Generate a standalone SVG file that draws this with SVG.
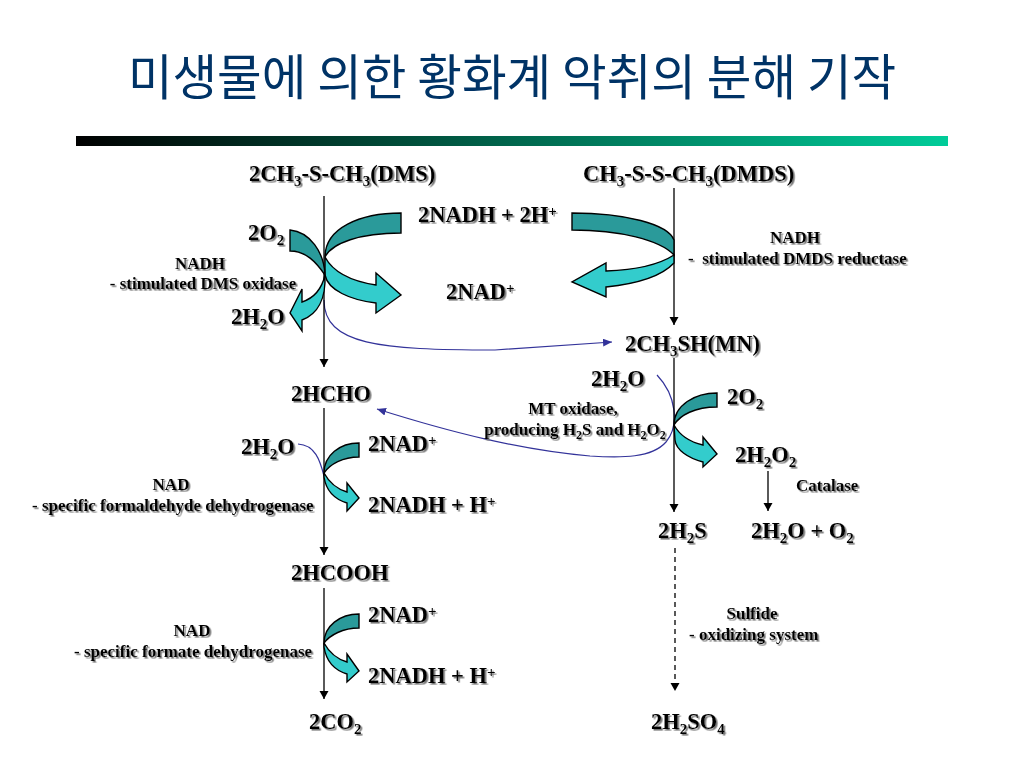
<svg xmlns="http://www.w3.org/2000/svg" width="1024" height="768" viewBox="0 0 1024 768">
<style>
text{font-family:"Liberation Serif","Noto Sans CJK KR",serif;font-weight:bold;fill:#000;filter:url(#sh)}
.l{font-size:22.5px}
.s{font-size:17px}
.m{text-anchor:middle}
.t{font-family:"Noto Sans CJK KR","Noto Sans",sans-serif;font-weight:normal;font-size:48.5px;fill:#003366;filter:none}
.v{stroke:#000;stroke-width:1.3;fill:none;marker-end:url(#k)}
.b{stroke:#33339a;stroke-width:1.2;fill:none}
.a{stroke:#000;stroke-width:1.4}
.d{fill:#2a9a9a}
.c{fill:#33cccc}
.u{font-size:15px}
.w{font-size:12px}
</style>
<defs>
<linearGradient id="g"><stop offset="0" stop-color="#000"/><stop offset="1" stop-color="#00cc99"/></linearGradient>
<filter id="sh" x="-10%" y="-20%" width="120%" height="150%"><feDropShadow dx="1.6" dy="1.6" stdDeviation="0.6" flood-color="#777"/></filter>
<marker id="k" markerUnits="userSpaceOnUse" markerWidth="10" markerHeight="10" refX="8" refY="4.5" orient="auto"><path d="M0 0L8 4.5L0 9Z" fill="#000"/></marker>
<marker id="u" markerUnits="userSpaceOnUse" markerWidth="12" markerHeight="10" refX="9" refY="4" orient="auto"><path d="M0 0L9 4L0 8Z" fill="#33339a"/></marker>
</defs>
<rect width="1024" height="768" fill="#fff"/>
<g id="title"><text class="t" x="512" y="95" text-anchor="middle">미생물에 의한 황화계 악취의 분해 기작</text></g>
<rect id="bar" x="76" y="136" width="872" height="10" fill="url(#g)"/>

<g id="connectors">
<path class="b" d="M324 300C324 345 380 350 495 350L612 342" marker-end="url(#u)"/>
<path class="b" d="M657 375C676 395 680 425 666 442C652 458 622 458 590 456C520 450 450 432 377 409" marker-end="url(#u)"/>
<path class="b" d="M298 444C315 445 320 460 324 476"/>
<path class="v" d="M324 196V367"/>
<path class="v" d="M674 188V325"/>
<path class="v" d="M674 358V512"/>
<path class="v" d="M324 408V555"/>
<path class="v" d="M324 588V699"/>
<path class="v" d="M768 471V511"/>
<path class="v" d="M675 548V691" stroke-dasharray="5 4"/>
</g>

<g id="curved-arrows">
<path class="a c" d="M325 257C333 272 350 281 376 285V273L401 295L376 313V303C350 300 328 290 325 275Z"/>
<path class="a d" d="M401 213C360 213 325 228 325 257C332 243 360 233 401 233Z"/>
<path class="a c" d="M325 275C326 298 318 314 302 320V331L290 313L302 289V302C314 298 322 288 325 275Z"/>
<path class="a d" d="M290 230C310 232 324 252 325 275C316 262 306 251 290 251Z"/>
<path class="a c" d="M674 255V263C660 278 635 284 606 287V297L572 282L606 263V271C635 270 660 264 674 255Z"/>
<path class="a d" d="M572 213C625 213 668 224 674 240V255C660 240 620 230 572 230Z"/>
<path class="a c" d="M674 425C680 436 690 442 703 445V437L717 454L703 467V462C688 458 676 450 675 440Z"/>
<path class="a d" d="M717 393C695 393 674 405 674 425C680 415 695 407 717 407Z"/>
<path class="a c" d="M324 473C330 484 337 489 347 492V483L359 498L347 511V503C334 499 326 490 324 477Z"/>
<path class="a d" d="M359 443C340 443 324 455 324 473C330 464 343 457 359 457Z"/>
<path class="a c" d="M324 643C330 654 337 659 347 662V654L359 671L347 682V674C334 670 326 660 324 647Z"/>
<path class="a d" d="M359 614C340 614 324 626 324 643C330 635 343 628 359 628Z"/>
</g>

<g id="n-dms"><text class="l" x="249" y="181">2CH<tspan dy="5" class="u">3</tspan><tspan dy="-5">-S-CH</tspan><tspan dy="5" class="u">3</tspan><tspan dy="-5">(DMS)</tspan></text></g>
<g id="n-dmds"><text class="l" x="583" y="181">CH<tspan dy="5" class="u">3</tspan><tspan dy="-5">-S-S-CH</tspan><tspan dy="5" class="u">3</tspan><tspan dy="-5">(DMDS)</tspan></text></g>
<g id="n-o2-a"><text class="l" x="248" y="240">2O<tspan dy="5" class="u">2</tspan></text></g>
<g id="n-nadh-2h"><text class="l" x="418" y="222">2NADH + 2H<tspan dy="-6" class="u">+</tspan></text></g>
<g id="n-nad-a"><text class="l" x="446" y="299">2NAD<tspan dy="-6" class="u">+</tspan></text></g>
<g id="n-h2o-a"><text class="l" x="231" y="324">2H<tspan dy="5" class="u">2</tspan><tspan dy="-5">O</tspan></text></g>
<g id="l-dms-ox"><text class="s m" x="200" y="269">NADH</text><text class="s m" x="203" y="289">- stimulated DMS oxidase</text></g>
<g id="l-dmds-red"><text class="s m" x="795" y="243">NADH</text><text class="s" x="688" y="264" xml:space="preserve">-  stimulated DMDS reductase</text></g>
<g id="n-mn"><text class="l" x="625" y="351">2CH<tspan dy="5" class="u">3</tspan><tspan dy="-5">SH(MN)</tspan></text></g>
<g id="n-h2o-b"><text class="l" x="591" y="386">2H<tspan dy="5" class="u">2</tspan><tspan dy="-5">O</tspan></text></g>
<g id="n-o2-b"><text class="l" x="727" y="404">2O<tspan dy="5" class="u">2</tspan></text></g>
<g id="l-mt"><text class="s m" x="573" y="414">MT oxidase,</text><text class="s m" x="575" y="435">producing H<tspan dy="4" class="w">2</tspan><tspan dy="-4">S and H</tspan><tspan dy="4" class="w">2</tspan><tspan dy="-4">O</tspan><tspan dy="4" class="w">2</tspan></text></g>
<g id="n-hcho"><text class="l" x="291" y="401">2HCHO</text></g>
<g id="n-h2o-c"><text class="l" x="241" y="454">2H<tspan dy="5" class="u">2</tspan><tspan dy="-5">O</tspan></text></g>
<g id="n-nad-b"><text class="l" x="368" y="451">2NAD<tspan dy="-6" class="u">+</tspan></text></g>
<g id="n-nadh-b"><text class="l" x="368" y="512">2NADH + H<tspan dy="-6" class="u">+</tspan></text></g>
<g id="l-formald"><text class="s m" x="171" y="490">NAD</text><text class="s" x="32" y="511">- specific formaldehyde dehydrogenase</text></g>
<g id="n-h2o2"><text class="l" x="735" y="462">2H<tspan dy="5" class="u">2</tspan><tspan dy="-5">O</tspan><tspan dy="5" class="u">2</tspan></text></g>
<g id="l-catalase"><text class="s" x="796" y="491">Catalase</text></g>
<g id="n-h2s"><text class="l" x="658" y="538">2H<tspan dy="5" class="u">2</tspan><tspan dy="-5">S</tspan></text></g>
<g id="n-h2o-o2"><text class="l" x="751" y="538">2H<tspan dy="5" class="u">2</tspan><tspan dy="-5">O + O</tspan><tspan dy="5" class="u">2</tspan></text></g>
<g id="n-hcooh"><text class="l" x="291" y="580">2HCOOH</text></g>
<g id="n-nad-c"><text class="l" x="368" y="622">2NAD<tspan dy="-6" class="u">+</tspan></text></g>
<g id="n-nadh-c"><text class="l" x="368" y="683">2NADH + H<tspan dy="-6" class="u">+</tspan></text></g>
<g id="l-formate"><text class="s m" x="192" y="636">NAD</text><text class="s" x="74" y="657">- specific formate dehydrogenase</text></g>
<g id="l-sulfide"><text class="s m" x="752" y="619">Sulfide</text><text class="s" x="689" y="640">- oxidizing system</text></g>
<g id="n-co2"><text class="l" x="309" y="729">2CO<tspan dy="5" class="u">2</tspan></text></g>
<g id="n-h2so4"><text class="l" x="651" y="729">2H<tspan dy="5" class="u">2</tspan><tspan dy="-5">SO</tspan><tspan dy="5" class="u">4</tspan></text></g>
</svg>
